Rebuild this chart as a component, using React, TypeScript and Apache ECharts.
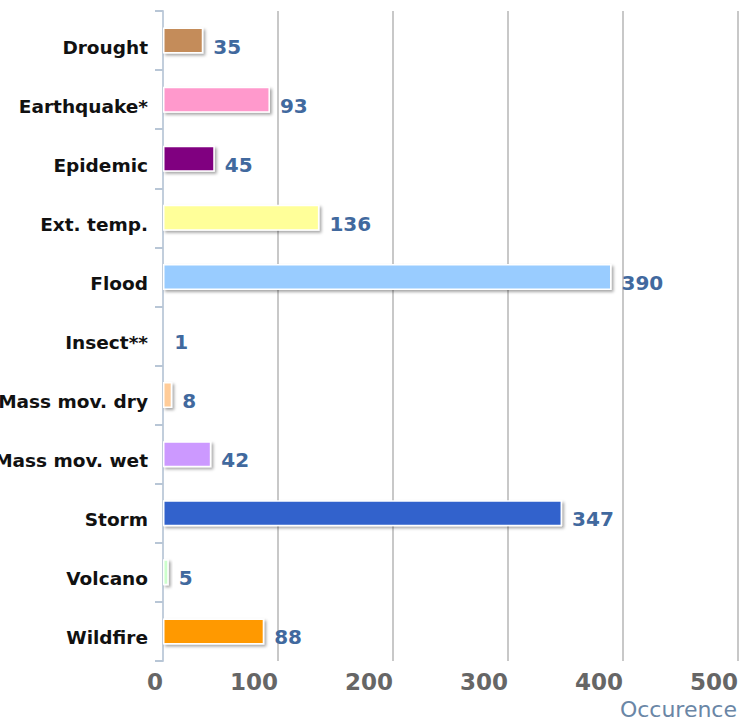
import React, { useEffect, useRef } from "react";
import * as echarts from "echarts";

const categories = [
  "Drought",
  "Earthquake*",
  "Epidemic",
  "Ext. temp.",
  "Flood",
  "Insect**",
  "Mass mov. dry",
  "Mass mov. wet",
  "Storm",
  "Volcano",
  "Wildfire",
];
const values = [35, 93, 45, 136, 390, 1, 8, 42, 347, 5, 88];
const colors = [
  "#c48c5a",
  "#ff99cc",
  "#800080",
  "#ffff99",
  "#99ccff",
  "#99ffcc",
  "#ffcc99",
  "#cc99ff",
  "#3162cc",
  "#ccffcc",
  "#ff9900",
];
const xTicks = [0, 100, 200, 300, 400, 500];
const axisTitle = "Occurence";

export default function App() {
  const ref = useRef<HTMLDivElement>(null);
  useEffect(() => {
    if (!ref.current) return;
    const chart = echarts.init(ref.current, undefined, { renderer: "svg" });
    const font = "DejaVu Sans, Verdana, sans-serif";
    chart.setOption({
      animation: false,
      backgroundColor: "#ffffff",
      grid: {
        left: 163,
        right: 2,
        top: 11,
        bottom: 60,
        containLabel: false,
        outerBoundsMode: "none",
      },
      xAxis: {
        type: "value",
        min: xTicks[0],
        max: xTicks[xTicks.length - 1],
        interval: 100,
        axisLine: { show: false },
        axisTick: { show: false },
        splitLine: { show: true, lineStyle: { color: "#c8c8c8", width: 2 } },
        axisLabel: {
          color: "#666666",
          fontSize: 23,
          fontWeight: "bold",
          fontFamily: font,
          align: "right",
          margin: 9,
        },
      },
      yAxis: {
        type: "category",
        inverse: true,
        data: categories,
        axisLine: { show: true, lineStyle: { color: "#c2cedc", width: 2 } },
        axisTick: { show: true, length: 8, lineStyle: { color: "#b8c6d6", width: 2 } },
        splitLine: { show: false },
        axisLabel: {
          color: "#111111",
          fontSize: 18.5,
          fontWeight: "bold",
          fontFamily: font,
          margin: 15,
          formatter: "{a|{value}}",
          rich: {
            a: {
              color: "#111111",
              fontSize: 18.5,
              fontWeight: "bold",
              fontFamily: font,
              padding: [13, 0, 0, 0],
            },
          },
        },
      },
      series: [
        {
          type: "bar",
          barWidth: 26,
          data: values.map((v, i) => ({
            value: v,
            itemStyle: { color: colors[i] },
          })),
          itemStyle: {
            borderColor: "#ffffff",
            borderWidth: 1.5,
            shadowColor: "rgba(0,0,0,0.35)",
            shadowBlur: 3,
            shadowOffsetX: 2,
            shadowOffsetY: 2,
          },
          label: {
            show: true,
            position: "right",
            distance: 10,
            offset: [0, 6],
            color: "#41699e",
            fontSize: 20,
            fontWeight: "bold",
            fontFamily: font,
          },
        },
      ],
      graphic: [
        {
          type: "text",
          x: 737,
          y: 709,
          style: {
            text: axisTitle,
            fill: "#6a86a6",
            fontSize: 22,
            fontFamily: font,
            align: "right",
            verticalAlign: "middle",
          },
        },
      ],
    });
    return () => chart.dispose();
  }, []);
  return <div ref={ref} style={{ width: 740, height: 721, position: "absolute", left: 0, top: 0 }} />;
}
